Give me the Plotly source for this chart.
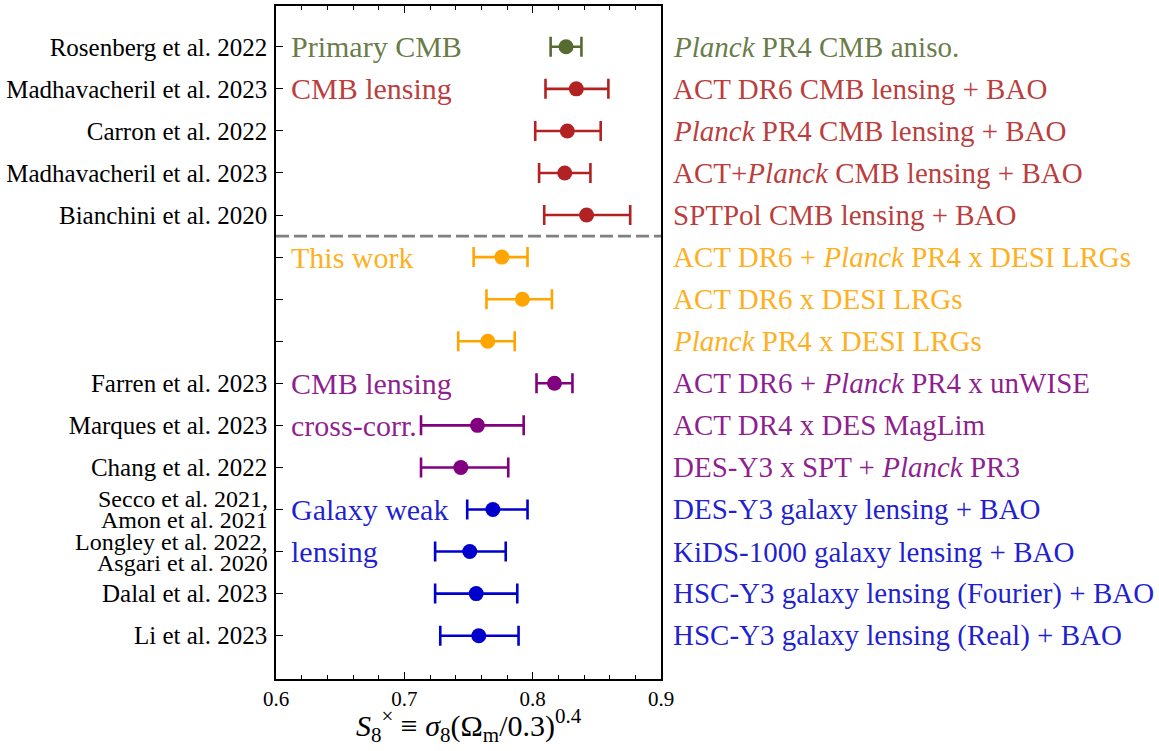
import plotly.graph_objects as go

# ---- data ----
refs = ["Rosenberg et al. 2022", "Madhavacheril et al. 2023", "Carron et al. 2022",
        "Madhavacheril et al. 2023", "Bianchini et al. 2020", "", "", "",
        "Farren et al. 2023", "Marques et al. 2023", "Chang et al. 2022",
        "", "", "Dalal et al. 2023", "Li et al. 2023"]
refs_two_line = {11: ["Secco et al. 2021,", "Amon et al. 2021"],
                 12: ["Longley et al. 2022,", "Asgari et al. 2020"]}
datasets = ["<i>Planck</i> PR4 CMB aniso.",
            "ACT DR6 CMB lensing + BAO",
            "<i>Planck</i> PR4 CMB lensing + BAO",
            "ACT+<i>Planck</i> CMB lensing + BAO",
            "SPTPol CMB lensing + BAO",
            "ACT DR6 + <i>Planck</i> PR4 x DESI LRGs",
            "ACT DR6 x DESI LRGs",
            "<i>Planck</i> PR4 x DESI LRGs",
            "ACT DR6 + <i>Planck</i> PR4 x unWISE",
            "ACT DR4 x DES MagLim",
            "DES-Y3 x SPT + <i>Planck</i> PR3",
            "DES-Y3 galaxy lensing + BAO",
            "KiDS-1000 galaxy lensing + BAO",
            "HSC-Y3 galaxy lensing (Fourier) + BAO",
            "HSC-Y3 galaxy lensing (Real) + BAO"]
s8 = [0.826, 0.834, 0.827, 0.825, 0.842,
      0.776, 0.792, 0.765,
      0.817, 0.757, 0.744,
      0.769, 0.751, 0.756, 0.758]
err_minus = [0.012, 0.024, 0.025, 0.020, 0.033,
             0.022, 0.028, 0.023,
             0.014, 0.044, 0.031,
             0.020, 0.027, 0.032, 0.030]
err_plus = [0.012, 0.025, 0.026, 0.020, 0.034,
            0.020, 0.023, 0.021,
            0.014, 0.036, 0.037,
            0.027, 0.028, 0.032, 0.031]
groups = ["primary", "lens", "lens", "lens", "lens",
          "this", "this", "this",
          "cross", "cross", "cross",
          "wl", "wl", "wl", "wl"]
group_colors = {"primary": "#556B2F", "lens": "#B22222", "this": "#FFA500",
                "cross": "#800080", "wl": "#0000CD"}
text_colors = {"primary": "rgba(85,107,47,0.9)", "lens": "rgba(178,34,34,0.88)",
               "this": "rgba(255,165,0,0.9)", "cross": "rgba(128,0,128,0.88)",
               "wl": "rgba(0,0,205,0.88)"}
group_labels = [(0, "Primary CMB", "primary"), (1, "CMB lensing", "lens"),
                (5, "This work", "this"), (8, "CMB lensing", "cross"),
                (9, "cross-corr.", "cross"), (11, "Galaxy weak", "wl"),
                (12, "lensing", "wl")]
divider_y = 4.5
rows = list(range(len(s8)))

FONT = "Liberation Serif"

fig = go.Figure()
for g in ["primary", "lens", "this", "cross", "wl"]:
    idx = [i for i in rows if groups[i] == g]
    fig.add_trace(go.Scatter(
        x=[s8[i] for i in idx], y=idx, mode="markers",
        marker=dict(size=15, color=group_colors[g]),
        error_x=dict(type="data", symmetric=False,
                     array=[err_plus[i] for i in idx],
                     arrayminus=[err_minus[i] for i in idx],
                     color=group_colors[g], thickness=2.6, width=10),
        showlegend=False, hoverinfo="skip"))

fig.add_shape(type="line", xref="paper", x0=0, x1=1, yref="y", y0=divider_y, y1=divider_y,
              line=dict(color="#808080", width=2.6, dash="13px,5px"))

annotations = []
for i in rows:
    annotations.append(dict(xref="paper", x=1, xshift=10, yref="y", y=i,
                            text=datasets[i], showarrow=False, xanchor="left",
                            yanchor="middle",
                            font=dict(family=FONT, size=29, color=text_colors[groups[i]])))
for r, lab, g in group_labels:
    annotations.append(dict(xref="x", x=0.6105, yref="y", y=r, text=lab, showarrow=False,
                            xanchor="left", yanchor="middle",
                            font=dict(family=FONT, size=30, color=text_colors[g])))
for r, lines in refs_two_line.items():
    for k, ln in enumerate(lines):
        annotations.append(dict(xref="paper", x=0, xshift=-6, yref="y", y=r,
                                yshift=(10 if k == 0 else -11), text=ln, showarrow=False,
                                xanchor="right", yanchor="middle",
                                font=dict(family=FONT, size=24, color="black")))
annotations.append(dict(xref="paper", x=0.5, yref="paper", y=0, yshift=-46,
                        text="<i>S</i><sub>8</sub><sup>×</sup> ≡ <i>σ</i><sub>8</sub>(Ω<sub>m</sub>/0.3)<sup>0.4</sup>",
                        showarrow=False, xanchor="center", yanchor="middle",
                        font=dict(family=FONT, size=30, color="black")))
fig.update_layout(annotations=annotations)

fig.update_layout(
    width=1159, height=751,
    margin=dict(l=276, r=498, t=4, b=72),
    plot_bgcolor="white", paper_bgcolor="white",
    font=dict(family=FONT, color="black"),
    xaxis=dict(range=[0.6, 0.9], tickvals=[0.6, 0.7, 0.8, 0.9],
               ticktext=["0.6", "0.7", "0.8", "0.9"],
               ticks="inside", ticklen=7, tickwidth=1.3, tickcolor="black",
               minor=dict(dtick=0.02, tick0=0.6, ticks="inside", ticklen=4, tickwidth=1, tickcolor="black"),
               showline=True, linecolor="black", linewidth=1.5, mirror="ticks",
               showgrid=False, zeroline=False,
               tickfont=dict(family=FONT, size=21)),
    yaxis=dict(range=[15.03, -0.97], tickvals=rows, ticktext=refs,
               ticks="inside", ticklen=7, tickwidth=1.3, tickcolor="black",
               showline=True, linecolor="black", linewidth=1.5, mirror=True,
               showgrid=False, zeroline=False, ticklabelstandoff=2,
               tickfont=dict(family=FONT, size=25)),
)

fig.write_html("out.html", config={"displayModeBar": False},
               post_script="document.body.style.margin='0';")
